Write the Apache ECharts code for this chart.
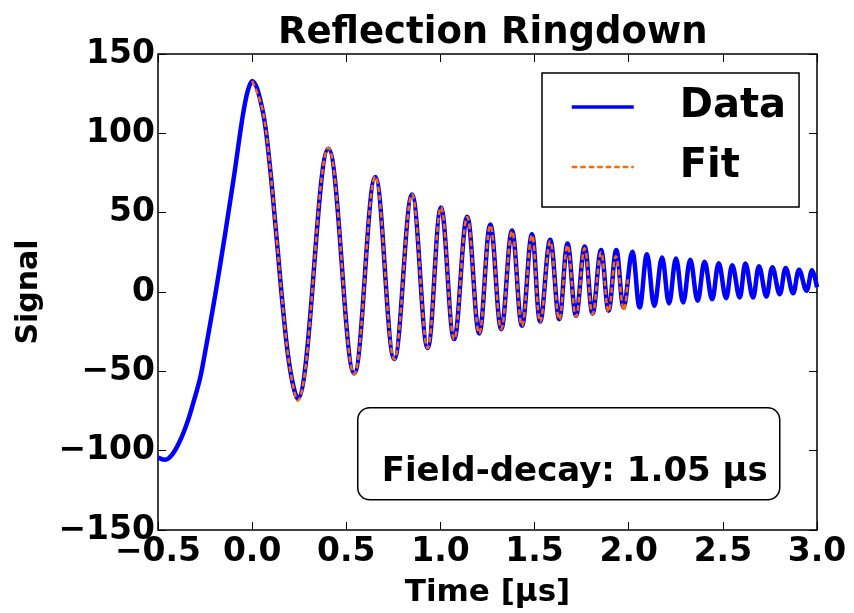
<!DOCTYPE html>
<html>
<head>
<meta charset="utf-8">
<script src="https://cdn.jsdelivr.net/npm/echarts@6/dist/echarts.min.js"></script>
<style>html,body{margin:0;padding:0;background:#fff;}#c{width:854px;height:613px;}</style>
</head>
<body>
<div id="c"></div>
<script>
// Values (time in µs, signal in a.u.)
const dataTime = [
  -0.500, -0.462, -0.425, -0.383, -0.345, -0.313, -0.276, -0.250, -0.223, -0.197, -0.170, -0.143,
  -0.117, -0.090, -0.064, -0.043, -0.021,
  0.000, 0.052, 0.087, 0.131, 0.166, 0.202, 0.241, 0.405, 0.542, 0.654, 0.755, 0.849, 0.932, 1.003,
  1.073, 1.142, 1.206, 1.265, 1.323,
  1.380, 1.433, 1.486, 1.530, 1.583, 1.631, 1.675, 1.720, 1.766, 1.808, 1.853, 1.893, 1.934, 1.973,
  2.019, 2.058, 2.097, 2.136, 2.177, 2.214, 2.251, 2.289, 2.327, 2.366, 2.403, 2.443, 2.478, 2.517,
  2.550, 2.589, 2.620, 2.660, 2.692, 2.731, 2.763, 2.802, 2.834, 2.873, 2.905, 2.944, 2.974, 3.000
];
const dataSignal = [
  -104.4, -105.7, -102.5, -93.7, -82.4, -70.0, -54.0, -38.0, -20.1, -2.5, 17.0, 37.0,
  57.0, 78.0, 100.0, 115.7, 127.7,
  133, 116.5, 87.4, 32.7, -13.2, -49.1, -67.3, 90.3, -51.3, 72.5, -42.3, 61.4, -35.3, 53.2,
  -29.7, 47.5, -26.1, 42.5, -23.4,
  38.8, -21.3, 36.4, -18.6, 32.9, -17.1, 30.5, -15.0, 28.7, -13.5, 26.4, -11.8, 26.5, -9.7,
  25.3, -9.7, 23.8, -8.7, 21.7, -7.2, 21.1, -6.6, 20.3, -5.5, 19.0, -4.5, 18.1, -3.9,
  16.9, -3.5, 17.9, -3.5, 16.2, -2.8, 15.6, -1.4, 15.2, -0.8, 14.0, 0.8, 13.7, 3
];
const fitTime = [
  0.000, 0.052, 0.087, 0.131, 0.166, 0.202, 0.241, 0.405, 0.542, 0.654, 0.755, 0.849, 0.932, 1.003,
  1.073, 1.142, 1.206, 1.265, 1.323,
  1.380, 1.433, 1.486, 1.530, 1.583, 1.631, 1.675, 1.720, 1.766, 1.808, 1.853, 1.893, 1.932, 1.975, 1.995
];
const fitSignal = [
  133, 116.5, 87.4, 32.7, -13.2, -49.1, -68.5, 90.8, -51.8, 72.8, -42.5, 61.4, -35.3, 53.5,
  -29.7, 47.3, -26.1, 42.0, -23.4,
  38.3, -21.3, 35.8, -18.8, 32.0, -17.3, 29.5, -15.5, 27.5, -14.0, 25.0, -12.5, 22.6, -11.6, 8
];
const xTicks = { min: -0.5, max: 3.0, step: 0.5 };
const yTicks = { min: -150, max: 150, step: 50 };
const titleText = 'Reflection Ringdown';
const xName = 'Time [μs]';
const yName = 'Signal';
const noteText = 'Field-decay: 1.05 μs';

const FONT = 'DejaVu Sans';
const pairs = (xs, ys) => xs.map((x, i) => [x, ys[i]]);
const minus = s => s.replace('-', '\u2212');

const chart = echarts.init(document.getElementById('c'), null, { renderer: 'canvas' });

const baseAxis = {
  type: 'value',
  splitLine: { show: false },
  axisLine: { show: false, onZero: false },
  axisTick: { show: true, inside: true, length: 8, lineStyle: { color: '#000', width: 1 } }
};

chart.setOption({
  animation: false,
  backgroundColor: '#fff',
  title: {
    text: titleText,
    left: 278,
    top: 15,
    padding: 0,
    textStyle: { fontFamily: FONT, fontWeight: 'bold', fontSize: 37, color: '#000' }
  },
  grid: {
    left: 158, right: 37, top: 54, bottom: 82,
    show: true, borderColor: '#000', borderWidth: 1.5, backgroundColor: 'transparent'
  },
  legend: {
    left: 542, top: 73,
    orient: 'vertical',
    align: 'left',
    padding: [14, 13, 20, 28],
    itemGap: 20,
    itemWidth: 62,
    itemHeight: 4,
    borderColor: '#000', borderWidth: 1.5, backgroundColor: '#fff',
    itemStyle: { color: 'rgba(0,0,0,0)', borderWidth: 0, borderColor: 'rgba(0,0,0,0)' },
    textStyle: { fontFamily: FONT, fontWeight: 'bold', fontSize: 40, color: '#000', lineHeight: 40, padding: [0, 0, 0, 41] },
    data: [
      { name: 'Data', lineStyle: { width: 3.5 } },
      { name: 'Fit', lineStyle: { width: 2.5 } }
    ]
  },
  xAxis: [
    Object.assign({}, baseAxis, {
      position: 'bottom',
      min: xTicks.min, max: xTicks.max, interval: xTicks.step,
      name: xName, nameLocation: 'middle', nameGap: 47,
      nameTextStyle: { fontFamily: FONT, fontWeight: 'bold', fontSize: 31, color: '#000' },
      axisLabel: { margin: 6, fontFamily: FONT, fontWeight: 'bold', fontSize: 33, color: '#000',
        formatter: v => minus(v.toFixed(1)) }
    }),
    Object.assign({}, baseAxis, {
      position: 'top',
      min: xTicks.min, max: xTicks.max, interval: xTicks.step,
      axisLabel: { show: false }
    })
  ],
  yAxis: [
    Object.assign({}, baseAxis, {
      position: 'left',
      min: yTicks.min, max: yTicks.max, interval: yTicks.step,
      name: yName, nameLocation: 'middle', nameGap: 114, nameRotate: 90,
      nameTextStyle: { fontFamily: FONT, fontWeight: 'bold', fontSize: 30, color: '#000' },
      axisLabel: { margin: 3, fontFamily: FONT, fontWeight: 'bold', fontSize: 33, color: '#000',
        formatter: v => minus(String(v)) }
    }),
    Object.assign({}, baseAxis, {
      position: 'right',
      min: yTicks.min, max: yTicks.max, interval: yTicks.step,
      axisLabel: { show: false }
    })
  ],
  series: [
    {
      name: 'Data', type: 'line', xAxisIndex: 0, yAxisIndex: 0,
      data: pairs(dataTime, dataSignal),
      symbol: 'none', smooth: 0.38,
      lineStyle: { color: '#0000ff', width: 4.5 },
      itemStyle: { color: '#0000ff' },
      z: 2
    },
    {
      name: 'Fit', type: 'line', xAxisIndex: 0, yAxisIndex: 0,
      data: pairs(fitTime, fitSignal),
      symbol: 'none', smooth: 0.38,
      lineStyle: { color: '#ff6a00', width: 2.5, type: [5.5, 3] },
      itemStyle: { color: '#ff6a00' },
      z: 3
    }
  ],
  graphic: [
    {
      type: 'group', left: 357, top: 407,
      children: [
        { type: 'rect', shape: { x: 0, y: 0, width: 422, height: 92, r: 12 },
          style: { fill: '#fff', stroke: '#000', lineWidth: 1.5 } },
        { type: 'text', x: 217, y: 64,
          style: { text: noteText, fontFamily: FONT, fontWeight: 'bold', fontSize: 34, fill: '#000',
            textAlign: 'center', textVerticalAlign: 'middle' } }
      ]
    }
  ]
});
</script>
</body>
</html>
